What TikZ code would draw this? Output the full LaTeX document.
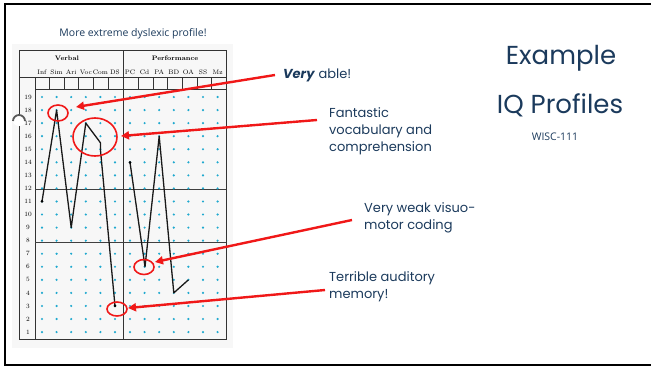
\documentclass[tikz,border=0pt]{standalone}
\usepackage{fontspec}
\usetikzlibrary{arrows.meta}
\newfontfamily\pop{Poppins}
\newfontfamily\osans{Open Sans}
\definecolor{navy}{HTML}{1B3A5C}
\definecolor{dotc}{HTML}{1FA9CF}
\definecolor{arrred}{HTML}{F01818}
\begin{document}
\begin{tikzpicture}[x=1pt,y=-1pt,
  tbl/.style={line width=0.6pt,black!80},
  callout/.style={font=\pop\fontsize{13}{17}\selectfont,text=navy,align=left,inner sep=0pt},
  pointer/.style={arrred,line width=2.4pt,-{Triangle[length=8pt,width=8pt]}},
  ring/.style={arrred,line width=1.6pt},
  plot/.style={line width=1.3pt,black!90,line join=round},
  lbl/.style={font=\fontsize{6.5}{7}\selectfont,inner sep=0pt}
]
\useasboundingbox (0,0) rectangle (651,367);
% slide frame
\draw[line width=2.2pt] (5,4) rectangle (660,365);

% scanned score sheet
\fill[black!3] (12,44) rectangle (233,348);
\draw[tbl] (19,50) rectangle (226,339);
\draw[tbl] (123,50) -- (123,339);
\draw[tbl] (19,77) -- (226,77);
\draw[tbl] (35,89) -- (226,89);
\draw[tbl] (35,77) -- (35,339);
\foreach \x in {49,64,78,93,108,138,153,167,182,197,211}
  \draw[tbl] (\x,77) -- (\x,89);
\draw[line width=0.8pt,black!75] (35,189) -- (226,189);
\draw[line width=0.8pt,black!75] (35,242) -- (226,242);

% headers
\node[lbl,font=\bfseries\fontsize{6.5}{7}\selectfont] (verbal) at (67,58) {Verbal};
\node[lbl,font=\bfseries\fontsize{6.5}{7}\selectfont] (perf) at (175,58) {Performance};
\foreach \t [count=\i from 0] in {Inf,Sim,Ari,Voc,Com,DS}
  \node[lbl] (v\i) at ({42+14.6*\i},72) {\t};
\foreach \t [count=\i from 0] in {PC,Cd,PA,BD,OA,SS,Mz}
  \node[lbl] (p\i) at ({130+14.6*\i},72) {\t};

% scale score rows and dot grid
\foreach \r in {1,...,19}{
  \node[lbl] (row\r) at (28,{97+(19-\r)*13.06}) {\r};
  \foreach \i in {0,...,5}
    \fill[dotc] ({42+14.6*\i},{97+(19-\r)*13.06}) circle (1.2pt);
  \foreach \i in {0,...,6}
    \fill[dotc] ({130+14.6*\i},{97+(19-\r)*13.06}) circle (1.2pt);
}

% binder hole
\fill[white] (19,120) ellipse (6.5 and 6);
\draw[black!65,line width=1.8pt] (13,121) arc (180:360:6 and 6);

% plotted profile
\coordinate (inf) at (42,{97+8*13.06});
\coordinate (sim) at (56.6,{97+1*13.06});
\coordinate (ari) at (71.2,{97+10*13.06});
\coordinate (voc) at (85.8,{97+2*13.06});
\coordinate (comA) at (100.4,{97+3.5*13.06});
\coordinate (comB) at (100.4,{97+4*13.06});
\coordinate (ds) at (115,{97+16*13.06});
\coordinate (pc) at (130,{97+5*13.06});
\coordinate (cd) at (145,{97+13*13.06});
\coordinate (pa) at (159.2,{97+3*13.06});
\coordinate (bd) at (173.8,{97+15*13.06});
\coordinate (oa) at (188.4,{97+14*13.06});
\draw[plot] (inf) -- (sim) -- (ari) -- (voc) -- (comA) -- (comB) -- (ds);
\draw[plot] (pc) -- (cd) -- (pa) -- (bd) -- (oa);
\fill (inf) circle (1.5pt);
\fill (ds) circle (1.5pt);
\fill (pc) circle (1.5pt);

% highlight rings
\draw[ring] (58,113) ellipse (10 and 8);
\draw[ring] (95,137) ellipse (22 and 19);
\draw[ring] (144,267) ellipse (10 and 7.5);
\draw[ring] (117,309) ellipse (10 and 7);

% titles
\node[font=\osans\fontsize{10.5}{12}\selectfont,text=navy] (sheet) at (133,34) {More extreme dyslexic profile!};
\node[font=\pop\fontsize{26}{30}\selectfont,text=navy] (ex) at (561,58) {Example};
\node[font=\pop\fontsize{26}{30}\selectfont,text=navy] (iq) at (560,105) {IQ Profiles};
\node[font=\osans\fontsize{10.5}{12}\selectfont,text=navy] (wisc) at (555,137) {WISC-111};

% callouts
\node[callout,anchor=west] (able) at (283,75) {\textbf{\textit{Very}} able!};
\node[callout,anchor=north west] (vocab) at (329,107) {Fantastic\\vocabulary and\\comprehension};
\node[callout,anchor=north west] (visuo) at (364,202) {Very weak visuo-\\motor coding};
\node[callout,anchor=north west] (memory) at (329,271) {Terrible auditory\\memory!};

\coordinate (s1) at (275,75);
\coordinate (t1) at (76,107);
\coordinate (s2) at (317,120);
\coordinate (t2) at (121,136);
\coordinate (s3) at (352,220);
\coordinate (t3) at (155,262);
\coordinate (s4) at (325,290);
\coordinate (t4) at (128,308);
\draw[pointer] (s1) -- (t1);
\draw[pointer] (s2) -- (t2);
\draw[pointer] (s3) -- (t3);
\draw[pointer] (s4) -- (t4);
\end{tikzpicture}
\end{document}
